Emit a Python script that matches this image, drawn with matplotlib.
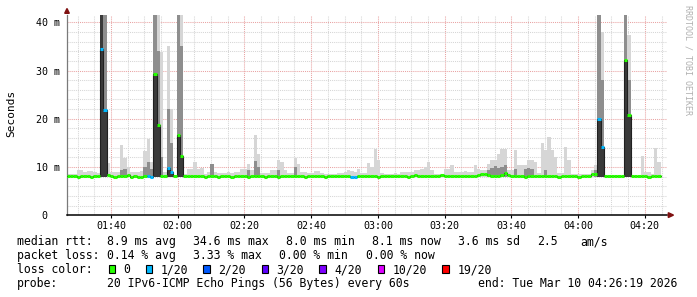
import matplotlib
matplotlib.use("Agg")
import matplotlib.pyplot as plt
from matplotlib.patches import Rectangle, Polygon
from matplotlib.ticker import MultipleLocator, FuncFormatter
import numpy as np

# first sample at 01:26:44 (minutes after midnight), one sample per minute
t_start = 86.73
span_min = 180

# median rtt per minute (ms)
median_ms = [
    8.1, 8.1, 8.1, 8.0, 8.1, 8.1, 8.1, 8.0, 8.1, 8.1,
    34.5, 21.8, 8.4, 8.1, 8.0, 8.1, 8.1, 8.1, 8.3, 8.0,
    8.1, 8.0, 8.0, 8.1, 8.1, 8.0, 29.2, 18.7, 8.1, 8.1,
    9.9, 9.0, 8.1, 16.6, 12.3, 8.1, 8.1, 8.1, 8.1, 8.1,
    8.1, 8.0, 8.1, 8.1, 8.1, 8.0, 8.1, 8.1, 8.1, 8.0,
    8.1, 8.1, 8.1, 8.1, 8.0, 8.1, 8.1, 8.1, 8.1, 8.0,
    8.1, 8.1, 8.1, 8.0, 8.1, 8.1, 8.1, 8.1, 8.1, 8.1,
    8.1, 8.0, 8.1, 8.1, 8.1, 8.1, 8.1, 8.0, 8.1, 8.1,
    8.1, 8.1, 8.1, 8.1, 8.1, 8.0, 8.0, 8.1, 8.1, 8.1,
    8.1, 8.1, 8.1, 8.0, 8.1, 8.1, 8.1, 8.1, 8.1, 8.1,
    8.1, 8.1, 8.0, 8.1, 8.3, 8.2, 8.1, 8.1, 8.1, 8.1,
    8.1, 8.1, 8.3, 8.1, 8.1, 8.1, 8.1, 8.1, 8.1, 8.1,
    8.1, 8.1, 8.2, 8.4, 8.5, 8.5, 8.3, 8.2, 8.2, 8.1,
    8.3, 8.7, 8.4, 8.2, 8.1, 8.1, 8.1, 8.0, 8.1, 8.1,
    8.1, 8.1, 8.1, 8.1, 8.1, 8.1, 8.1, 8.0, 8.1, 8.1,
    8.1, 8.1, 8.1, 8.0, 8.1, 8.1, 8.1, 8.5, 8.5, 19.9,
    14.1, 8.1, 8.1, 8.1, 8.1, 8.1, 8.1, 32.1, 20.7, 8.1,
    8.1, 8.1, 8.1, 8.1, 8.0, 8.1, 8.1, 8.1,
]

# slowest ping per minute (top of the smoke, ms)
max_ms = [
    8.5, 8.6, 8.5, 9.3, 9.3, 9.0, 9.1, 9.1, 9.0, 8.8,
    45, 45, 10.8, 9.0, 9.0, 9.0, 14.5, 11.9, 10.0, 9.0,
    9.0, 9.0, 9.2, 13.3, 15.8, 11.0, 45, 45, 33.8, 9.0,
    35.1, 22.0, 8.4, 45, 45, 8.5, 9.5, 9.5, 11.0, 9.5,
    9.8, 8.6, 8.9, 10.6, 9.0, 8.8, 8.8, 8.8, 9.0, 8.8,
    9.0, 9.0, 9.5, 9.5, 10.6, 9.4, 16.6, 12.6, 8.8, 8.8,
    8.8, 9.4, 9.4, 11.4, 11.0, 9.3, 8.8, 8.8, 11.9, 10.6,
    9.0, 9.0, 8.7, 8.7, 9.1, 9.1, 8.8, 8.6, 8.6, 8.6,
    8.6, 8.8, 8.7, 8.9, 9.3, 9.1, 9.0, 9.5, 8.8, 8.7,
    10.8, 10.0, 13.7, 11.5, 8.8, 8.6, 8.6, 8.6, 8.7, 8.6,
    9.0, 9.0, 9.0, 9.0, 9.3, 9.3, 9.5, 10.0, 11.0, 9.3,
    8.5, 8.5, 8.6, 9.5, 9.5, 10.4, 9.0, 9.0, 9.0, 9.2,
    9.0, 9.0, 10.4, 9.6, 9.3, 9.3, 10.7, 11.4, 11.4, 12.8,
    13.8, 13.8, 9.3, 9.3, 13.5, 10.4, 10.4, 10.4, 11.4, 11.4,
    11.0, 8.8, 14.9, 13.5, 16.2, 13.5, 12.0, 8.7, 8.7, 14.2,
    11.4, 8.6, 8.6, 8.6, 8.5, 8.5, 8.5, 9.3, 10.4, 45,
    37.9, 8.3, 8.3, 8.3, 8.3, 8.3, 8.1, 45, 37.4, 8.3,
    8.3, 8.2, 12.3, 9.0, 9.0, 8.5, 14.0, 11.0,
]
min_ms = 7.9

# denser smoke (upper part of the ping spread)
mid_idx = [10, 11, 16, 17, 23, 24, 25, 26, 27, 28,
           30, 31, 33, 34, 43, 54, 56, 57, 63, 68,
           126, 127, 128, 129, 130, 131, 134, 137, 138, 139,
           143, 158, 159, 160, 167, 168]
mid_ms = [45, 45, 9.3, 9.5, 10.0, 11.0, 9.5, 45, 34, 12,
          22, 15, 45, 35, 10.6, 9.3, 11.2, 10.0, 9.3, 10.1,
          9.3, 9.8, 10.2, 9.8, 10.0, 10.4, 9.5, 9.5, 9.7, 9.5,
          9.3, 9.4, 45, 28, 45, 28]

# darkest smoke
dark_idx = [10, 11, 26, 27, 30, 31, 33, 34, 159, 160, 167, 168]
dark_ms = [45, 21.8, 29.2, 18.7, 9.9, 9.0, 16.6, 12.3, 19.9, 14.1, 32.1, 20.7]

# lost pings out of 20
loss_idx = [10, 11, 24, 25, 30, 31, 85, 86, 159, 160]
loss_cnt = [1, 1, 1, 1, 1, 1, 1, 1, 1, 1]

loss_labels = ["0", "1/20", "2/20", "3/20", "4/20", "10/20", "19/20"]
loss_limits = [0, 1, 2, 3, 4, 10, 19]
loss_colors = ["#26ff00", "#00b8ff", "#0059ff", "#5e00ff", "#7e00ff", "#dd00ff", "#ff0000"]

W, H = 697, 297
mono = "DejaVu Sans Mono"


def fpos(x, y):
    return x / W, 1 - y / H


def loss_color(n):
    c = loss_colors[0]
    for lim, col in zip(loss_limits, loss_colors):
        if n >= lim:
            c = col
    return c


n = len(median_ms)
t = t_start + np.arange(n)
med = np.array(median_ms)
loss = np.zeros(n, dtype=int)
loss[loss_idx] = loss_cnt

fig = plt.figure(figsize=(W / 100, H / 100), dpi=100)
ax = fig.add_axes([66.7 / W, 1 - 215.3 / H, 600.6 / W, 200.3 / H])
ax.set_xlim(t_start, t_start + span_min)
ax.set_ylim(0, 41.5)

# smoke
ax.bar(t, np.array(max_ms) - min_ms, bottom=min_ms, width=1, align='edge',
       color='#d6d6d6', linewidth=0, zorder=1)
ax.bar(t[mid_idx], np.array(mid_ms) - min_ms, bottom=min_ms, width=1, align='edge',
       color='#8e8e8e', linewidth=0, zorder=1.5)
ax.bar(t[dark_idx], np.array(dark_ms) - min_ms, bottom=min_ms, width=1, align='edge',
       color='#3a3a3a', linewidth=0, zorder=2)

# median, thin dark step + loss coloured segments
ax.step(np.append(t, t[-1] + 1), np.append(med, med[-1]), where='post',
        color='#202020', lw=0.8, zorder=3)
ax.hlines(med, t, t + 1, colors=[loss_color(v) for v in loss], lw=2.2, zorder=4)

# grid
ax.xaxis.set_major_locator(MultipleLocator(20))
ax.xaxis.set_minor_locator(MultipleLocator(5))
ax.yaxis.set_major_locator(MultipleLocator(10))
ax.yaxis.set_minor_locator(MultipleLocator(2))
ax.set_axisbelow(True)
ax.grid(which='minor', color='#d6d6d6', ls=(0, (1, 1)), lw=0.75)
ax.grid(which='major', color='#e9a3a3', ls=(0, (1, 1)), lw=0.75)

ax.xaxis.set_major_formatter(FuncFormatter(lambda v, p: "%02d:%02d" % (int(v) // 60, int(round(v)) % 60)))
ax.yaxis.set_major_formatter(FuncFormatter(lambda v, p: "0  " if v == 0 else "%d m" % v))
ax.tick_params(which='minor', length=0)
ax.tick_params(axis='x', which='major', length=2, width=0.8, pad=2, labelsize=7.2, colors='#000000')
ax.tick_params(axis='y', which='major', length=0, pad=4.8, labelsize=7.2, colors='#000000')
for lab in ax.get_xticklabels() + ax.get_yticklabels():
    lab.set_family(mono)

for s in ['top', 'right']:
    ax.spines[s].set_visible(False)
ax.spines['left'].set_color('#7a7a7a')
ax.spines['left'].set_linewidth(0.9)
ax.spines['bottom'].set_color('#000000')
ax.spines['bottom'].set_linewidth(1.1)

# axis arrows
fig.patches.append(Polygon([fpos(64.7, 13.3), fpos(69.3, 13.3), fpos(67.0, 8.5)],
                           closed=True, color='#7f1010', transform=fig.transFigure))
fig.patches.append(Polygon([fpos(668.3, 212.7), fpos(668.3, 217.5), fpos(673.5, 215.1)],
                           closed=True, color='#7f1010', transform=fig.transFigure))

fig.text(*fpos(11, 113.5), "Seconds", rotation=90, ha='center', va='center',
         family=mono, fontsize=8, color='#000000')
fig.text(*fpos(688, 5), "RRDTOOL / TOBI OETIKER", rotation=270, ha='center', va='top',
         family=mono, fontsize=6, color='#b0b0b0')

# legend
fs = 8.3
base = [245.3, 259.2, 273.1, 286.9]
row1 = [(16.7, "median rtt:"), (107.3, "8.9 ms avg"), (193.3, "34.6 ms max"),
        (286.0, "8.0 ms min"), (372.3, "8.1 ms now"), (458.3, "3.6 ms sd"),
        (536.7, "2.5"), (580.0, "am/s")]
row2 = [(16.7, "packet loss:"), (107.3, "0.14 % avg"), (192.7, "3.33 % max"),
        (279.3, "0.00 % min"), (365.7, "0.00 % now")]
row4 = [(16.7, "probe:"), (107.3, "20 IPv6-ICMP Echo Pings (56 Bytes) every 60s"),
        (478.3, "end: Tue Mar 10 04:26:19 2026")]
for k, row in [(0, row1), (1, row2), (3, row4)]:
    for x, s in row:
        fig.text(*fpos(x, base[k]), s, family=mono, fontsize=fs, va='baseline', color='#000000')

fig.text(*fpos(16.7, base[2]), "loss color:", family=mono, fontsize=fs, va='baseline', color='#000000')
box_x = [108.7, 145.7, 203.3, 261.7, 319.3, 377.7, 442.3]
for bx, lab, col in zip(box_x, loss_labels, loss_colors):
    x0, y0 = fpos(bx, 273.3)
    fig.patches.append(Rectangle((x0, y0), 6.6 / W, 8.6 / H, facecolor=col,
                                 edgecolor='#000000', lw=0.8, transform=fig.transFigure))
    fig.text(*fpos(bx + 15, base[2]), lab, family=mono, fontsize=fs, va='baseline', color='#000000')

fig.savefig("out.png", dpi=100)
